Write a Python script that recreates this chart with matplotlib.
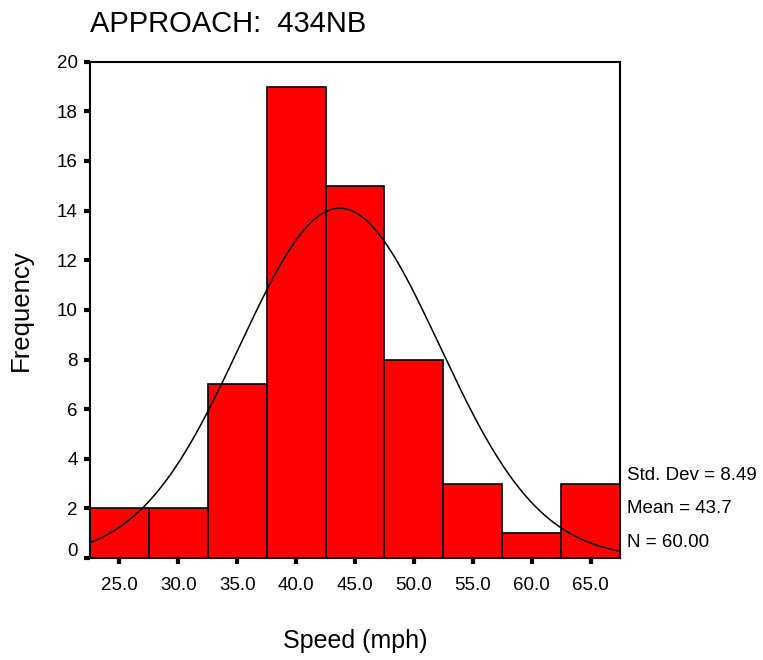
import numpy as np
import matplotlib
matplotlib.use("Agg")
import matplotlib.pyplot as plt
import matplotlib.transforms as mtransforms

# histogram of approach speeds
bin_centers = [25.0, 30.0, 35.0, 40.0, 45.0, 50.0, 55.0, 60.0, 65.0]
counts = [2, 2, 7, 19, 15, 8, 3, 1, 3]
bin_width = 5.0
tick_labels = ["25.0", "30.0", "35.0", "40.0", "45.0", "50.0", "55.0", "60.0", "65.0"]

std_dev = 8.49
mean = 43.7
n = 60

plt.rcParams['font.family'] = ['Liberation Sans', 'DejaVu Sans']

fig = plt.figure(figsize=(7.63, 6.6), dpi=100)
ax = fig.add_axes([0.118, 0.1545, 0.6946, 0.752])

ax.bar(bin_centers, counts, width=bin_width, color='#ff0000',
       edgecolor='black', linewidth=1.2, zorder=2)

# fitted normal curve
xs = np.linspace(22.5, 67.5, 300)
ys = n * bin_width / (std_dev * np.sqrt(2 * np.pi)) * np.exp(-0.5 * ((xs - mean) / std_dev) ** 2)
ax.plot(xs, ys, color='black', linewidth=1.1, zorder=3)

ax.set_xlim(22.5, 67.5)
ax.set_ylim(0, 20)
ax.set_xticks(bin_centers)
ax.set_xticklabels(tick_labels)
ax.set_yticks(range(0, 21, 2))

for s in ax.spines.values():
    s.set_linewidth(1.5)
    s.set_color('black')

ax.tick_params(axis='both', direction='out', length=4, width=3, labelsize=13.5)
ax.tick_params(axis='x', pad=10)
ax.tick_params(axis='y', pad=5)

# the "0" label sits a bit above its tick in the original
ylbls = ax.get_yticklabels()
ylbls[0].set_transform(ylbls[0].get_transform() +
                       mtransforms.ScaledTranslation(0, 9 / 100, fig.dpi_scale_trans))

ax.set_xlabel('Speed (mph)', fontsize=18, labelpad=25)
ax.set_ylabel('Frequency', fontsize=18.5, labelpad=17)

fig.text(0.118, 0.964, 'APPROACH:  434NB', fontsize=21, ha='left', va='center')

# summary stats next to the plot
fig.text(0.822, 0.279, 'Std. Dev = {:.2f}'.format(std_dev), fontsize=13.5, va='center')
fig.text(0.822, 0.229, 'Mean = {:.1f}'.format(mean), fontsize=13.5, va='center')
fig.text(0.822, 0.178, 'N = {:.2f}'.format(n), fontsize=13.5, va='center')

fig.savefig('out.png', dpi=100)
